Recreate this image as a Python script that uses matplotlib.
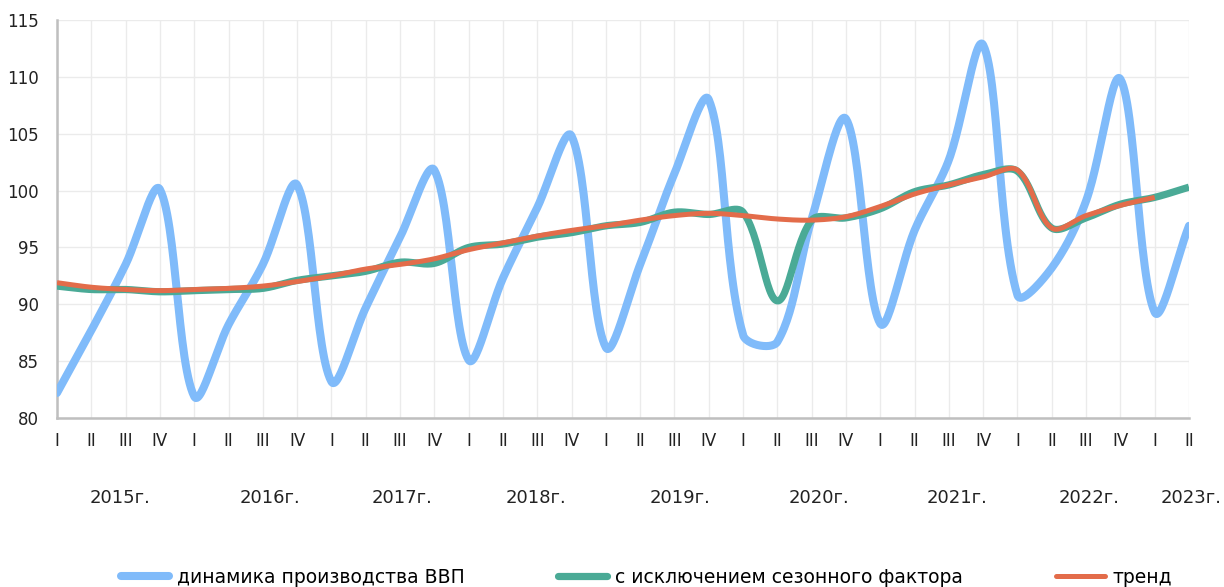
import numpy as np
import matplotlib.pyplot as plt
import matplotlib.transforms as mtransforms

plt.rcParams['font.family'] = ['DejaVu Sans']

quarters = ['I', 'II', 'III', 'IV'] * 8 + ['I', 'II']
years = ['2015г.', '2016г.', '2017г.', '2018г.', '2019г.', '2020г.', '2021г.', '2022г.', '2023г.']
year_pos = [1.84, 6.2, 10.05, 13.95, 18.15, 22.2, 26.25, 30.1, 33.05]

gdp = [82.2, 87.7, 93.5, 100.1, 81.9, 88.2, 93.5, 100.5, 83.2, 89.7, 95.9, 101.8,
       85.1, 92.3, 98.5, 104.8, 86.2, 93.5, 101.5, 108.0, 87.3, 86.7, 97.5, 106.3,
       88.3, 96.5, 102.7, 112.8, 90.8, 93.2, 99.1, 109.8, 89.3, 96.9]
seasonal = [91.6, 91.3, 91.3, 91.1, 91.2, 91.3, 91.4, 92.1, 92.5, 92.9, 93.7, 93.6,
            95.0, 95.3, 95.9, 96.3, 96.9, 97.2, 98.1, 97.9, 98.1, 90.3, 97.4, 97.6,
            98.4, 99.9, 100.5, 101.4, 101.7, 96.7, 97.6, 98.8, 99.4, 100.3]
trend = [91.9, 91.5, 91.3, 91.2, 91.3, 91.4, 91.6, 92.0, 92.5, 93.1, 93.5, 94.0,
         94.8, 95.4, 96.0, 96.5, 96.9, 97.4, 97.8, 98.0, 97.8, 97.5, 97.4, 97.7,
         98.6, 99.7, 100.5, 101.2, 101.8, 96.7, 97.8, 98.7, 99.4]


# Excel-like smoothed line: bezier segments, control arms scaled by chord length
def smooth(y, sx=34.3, sy=11.29, steps=30):
    pts = np.column_stack([np.arange(len(y)) * sx, np.asarray(y, float) * sy])
    n = len(pts)
    c_out = pts.copy()
    c_in = pts.copy()
    for i in range(n):
        p0 = pts[max(i - 1, 0)]
        p2 = pts[min(i + 1, n - 1)]
        d01 = np.hypot(*(pts[i] - p0))
        d12 = np.hypot(*(p2 - pts[i]))
        tot = d01 + d12
        if tot == 0:
            continue
        tvec = p2 - p0
        c_out[i] = pts[i] + tvec * d12 / tot / 3
        c_in[i] = pts[i] - tvec * d01 / tot / 3
    t = np.linspace(0, 1, steps)[:, None]
    segs = []
    for i in range(n - 1):
        a, b, c, d = pts[i], c_out[i], c_in[i + 1], pts[i + 1]
        segs.append((1 - t) ** 3 * a + 3 * (1 - t) ** 2 * t * b + 3 * (1 - t) * t ** 2 * c + t ** 3 * d)
    curve = np.vstack(segs)
    return curve[:, 0] / sx, curve[:, 1] / sy


fig = plt.figure(figsize=(12.24, 5.87), dpi=100)
ax = fig.add_axes([57 / 1224, 1 - 418 / 587, (1189 - 57) / 1224, (418 - 20) / 587])

ax.plot(*smooth(gdp), color='#80BBFA', lw=5.8, solid_capstyle='round',
        label='динамика производства ВВП', zorder=3)
ax.plot(*smooth(seasonal), color='#4AAA96', lw=5.2, solid_capstyle='butt',
        label='с исключением сезонного фактора', zorder=4)
ax.plot(*smooth(trend), color='#E36C4A', lw=3.6, solid_capstyle='butt',
        label='тренд', zorder=5)

ax.set_xlim(0, len(quarters) - 1)
ax.set_ylim(80, 115)
ax.set_yticks(np.arange(80, 116, 5))
ax.set_xticks(np.arange(len(quarters)))
ax.set_xticklabels(quarters)
ax.tick_params(axis='both', length=0, labelsize=12, colors='#222222')
ax.tick_params(axis='x', pad=10)
ax.tick_params(axis='y', pad=13)
ax.grid(True, color='#EBEBEB', lw=1)
ax.set_axisbelow(True)
for s in ['top', 'right']:
    ax.spines[s].set_visible(False)
for s in ['left', 'bottom']:
    ax.spines[s].set_color('#BFBFBF')
    ax.spines[s].set_linewidth(1.8)

trans = mtransforms.blended_transform_factory(ax.transData, ax.transAxes)
for lbl, xp in zip(years, year_pos):
    ax.text(xp, -0.2, lbl, transform=trans, ha='center', va='center',
            fontsize=13, color='#222222')

leg = fig.legend(loc='center', ncol=3, bbox_to_anchor=(0.528, 0.017),
                 frameon=False, fontsize=13.5, handlelength=2.6, columnspacing=5.0,
                 handletextpad=0.4, borderpad=0)
for h in leg.get_lines():
    h.set_solid_capstyle('round')

fig.savefig('out.png', dpi=100)
